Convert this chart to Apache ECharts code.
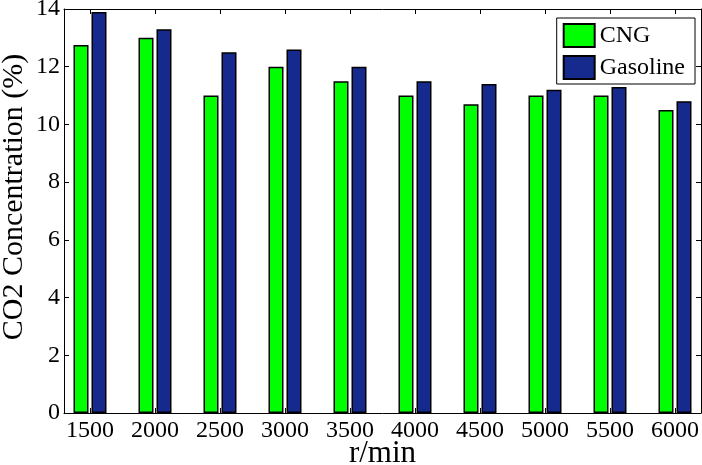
<!DOCTYPE html>
<html>
<head>
<meta charset="utf-8">
<script src="https://cdn.jsdelivr.net/npm/echarts@6/dist/echarts.min.js"></script>
<style>html,body{margin:0;padding:0;background:#fff}#c{width:702px;height:465px}</style>
</head>
<body>
<div id="c"></div>
<script>
var speeds = [1500, 2000, 2500, 3000, 3500, 4000, 4500, 5000, 5500, 6000];
var cngValues = [12.75, 13.0, 11.0, 12.0, 11.5, 11.0, 10.7, 11.0, 11.0, 10.5];
var gasolineValues = [13.9, 13.3, 12.5, 12.6, 12.0, 11.5, 11.4, 11.2, 11.3, 10.8];
var xTickLabels = [1500, 2000, 2500, 3000, 3500, 4000, 4500, 5000, 5500, 6000];
var yTickLabels = [0, 2, 4, 6, 8, 10, 12, 14];
var yTitle = 'CO2 Concentration (%)';
var xTitle = 'r/min';

var font = "'Liberation Serif', 'DejaVu Serif', serif";
function pairs(vals) { return speeds.map(function (s, i) { return [s, vals[i]]; }); }
function plain(v) { return String(v); }

var chart = echarts.init(document.getElementById('c'), null, {renderer: 'canvas'});
var axisLine = {show: true, onZero: false, lineStyle: {color: '#000', width: 1}};
chart.setOption({
  animation: false,
  backgroundColor: '#fff',
  grid: {left: 64, right: 1, top: 9, bottom: 52, containLabel: false, outerBoundsMode: 'none'},
  graphic: [{
    type: 'text', x: 14, y: 197, rotation: Math.PI / 2,
    style: {text: yTitle, font: "30px 'Liberation Serif', serif", fill: '#000',
            align: 'center', verticalAlign: 'middle', textAlign: 'center', textVerticalAlign: 'middle'}
  }],
  legend: {
    orient: 'vertical', right: 7, top: 18,
    padding: [5, 10, 4, 6], itemGap: 7,
    itemWidth: 31, itemHeight: 23, icon: 'rect',
    borderColor: '#000', borderWidth: 1, backgroundColor: '#fff',
    textStyle: {fontFamily: font, fontSize: 24, color: '#000', lineHeight: 23},
    data: ['CNG', 'Gasoline']
  },
  xAxis: [{
    type: 'value', min: 1300, max: 6200, position: 'bottom',
    name: xTitle, nameLocation: 'middle', nameGap: 25, nameMoveOverlap: false,
    nameTextStyle: {fontFamily: font, fontSize: 31, color: '#000'},
    axisLine: axisLine,
    axisTick: {show: true, inside: true, length: 5, customValues: xTickLabels, lineStyle: {color: '#000'}},
    axisLabel: {show: true, customValues: xTickLabels, formatter: plain, fontFamily: font, fontSize: 24, color: '#000', margin: 6},
    splitLine: {show: false}
  }, {
    type: 'value', min: 1300, max: 6200, position: 'top',
    axisLine: axisLine,
    axisTick: {show: true, inside: true, length: 5, customValues: xTickLabels, lineStyle: {color: '#000'}},
    axisLabel: {show: false},
    splitLine: {show: false}
  }],
  yAxis: [{
    type: 'value', min: 0, max: 14, interval: 2, position: 'left',
    axisLine: axisLine,
    axisTick: {show: true, inside: true, length: 5, lineStyle: {color: '#000'}},
    axisLabel: {fontFamily: font, fontSize: 24, color: '#000', margin: 4, formatter: plain},
    splitLine: {show: false}
  }, {
    type: 'value', min: 0, max: 14, interval: 2, position: 'right',
    axisLine: axisLine,
    axisTick: {show: true, inside: true, length: 5, lineStyle: {color: '#000'}},
    axisLabel: {show: false},
    splitLine: {show: false}
  }],
  series: [{
    name: 'CNG', type: 'bar', xAxisIndex: 0, yAxisIndex: 0,
    barWidth: 15, barGap: '20%',
    itemStyle: {color: '#00ff00', borderColor: '#000', borderWidth: 1.5},
    data: pairs(cngValues)
  }, {
    name: 'Gasoline', type: 'bar', xAxisIndex: 0, yAxisIndex: 0,
    barWidth: 15, barGap: '20%',
    itemStyle: {color: '#16298c', borderColor: '#000', borderWidth: 1.5},
    data: pairs(gasolineValues)
  }]
});
</script>
</body>
</html>
